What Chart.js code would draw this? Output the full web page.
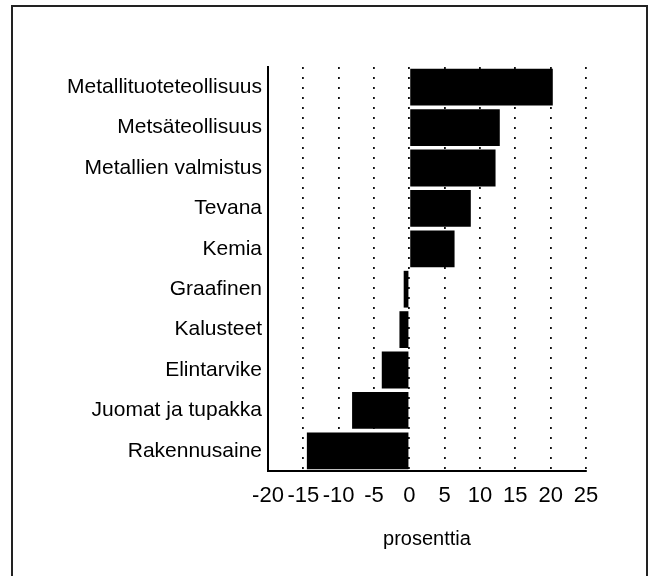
<!DOCTYPE html>
<html>
<head>
<meta charset="utf-8">
<script src="https://cdn.jsdelivr.net/npm/chart.js@4/dist/chart.umd.min.js"></script>
<style>
  html, body { margin: 0; padding: 0; background: #fff; }
  #wrap { position: relative; width: 652px; height: 576px; overflow: hidden; }
  #frame { position: absolute; left: 11px; top: 5px; width: 637px; height: 600px; border: 2px solid #222; box-sizing: border-box; }
  canvas { position: absolute; left: 0; top: 0; }
</style>
</head>
<body>
<div id="wrap">
  <div id="frame"></div>
  <canvas id="c" width="652" height="576"></canvas>
</div>
<script>
const categories = [
  "Metallituoteteollisuus",
  "Metsäteollisuus",
  "Metallien valmistus",
  "Tevana",
  "Kemia",
  "Graafinen",
  "Kalusteet",
  "Elintarvike",
  "Juomat ja tupakka",
  "Rakennusaine"
];
const values = [20.3, 12.8, 12.2, 8.7, 6.4, -0.8, -1.4, -3.9, -8.1, -14.5];
const xTicks = [-20, -15, -10, -5, 0, 5, 10, 15, 20, 25];
const axisTitle = "prosenttia";

const FONT = "'Liberation Sans', Arial, Helvetica, sans-serif";

new Chart(document.getElementById('c'), {
  type: 'bar',
  data: {
    labels: categories,
    datasets: [{
      data: values,
      backgroundColor: '#000',
      borderWidth: 0,
      barPercentage: 0.91,
      categoryPercentage: 1.0
    }]
  },
  options: {
    indexAxis: 'y',
    responsive: false,
    animation: false,
    devicePixelRatio: 1,
    layout: { padding: { top: 67, right: 66, bottom: 0, left: 0 } },
    plugins: { legend: { display: false }, tooltip: { enabled: false } },
    scales: {
      x: {
        min: -20, max: 25,
        afterBuildTicks: (s) => { s.ticks = xTicks.map(v => ({ value: v })); },
        afterFit: (s) => { s.height = 105; },
        grid: {
          drawTicks: false,
          color: (ctx) => ctx.tick && ctx.tick.value === -20 ? 'rgba(0,0,0,0)' : '#111',
          lineWidth: 1.8
        },
        border: { display: true, color: '#000', width: 2, dash: [2, 8] },
        ticks: {
          color: '#000',
          padding: 12,
          autoSkip: false,
          maxRotation: 0,
          font: { family: FONT, size: 22 }
        },
        title: {
          display: true, text: axisTitle, color: '#000',
          font: { family: FONT, size: 20 },
          padding: { top: 0, bottom: 25 }
        }
      },
      y: {
        afterFit: (s) => { s.width = 268; },
        grid: { display: false, drawTicks: false },
        border: { display: true, color: '#000', width: 2 },
        ticks: {
          color: '#000',
          padding: 6,
          font: { family: FONT, size: 21 }
        }
      }
    }
  }
});
</script>
</body>
</html>
